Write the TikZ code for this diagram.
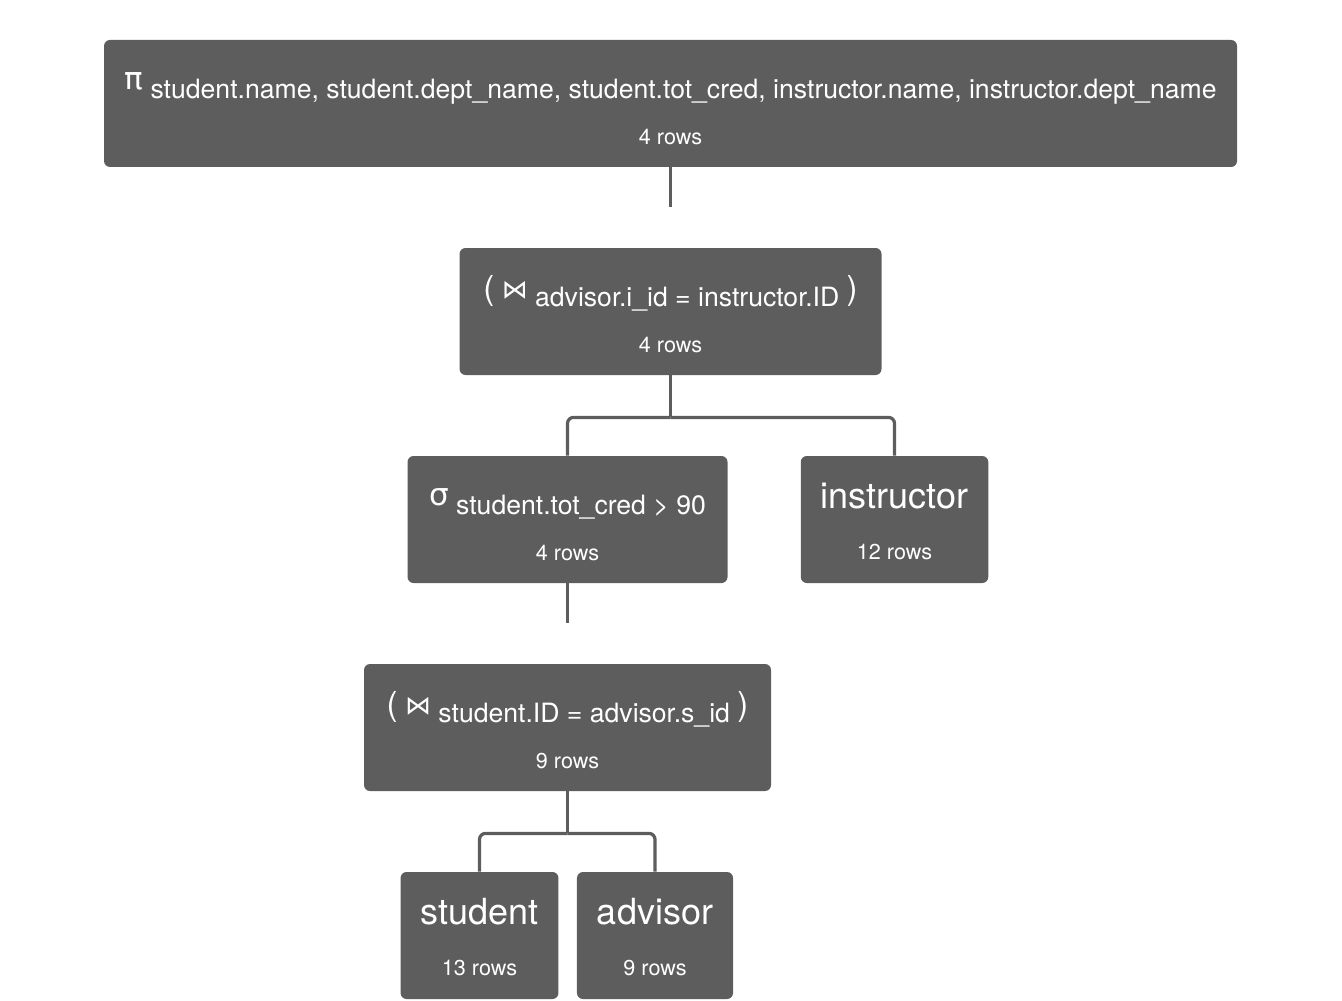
\documentclass[tikz,border=0pt]{standalone}
\usepackage{fontspec}
\setmainfont{TeX Gyre Heros}
\newfontfamily\symfont{DejaVu Sans}
\usetikzlibrary{positioning}
\definecolor{opgray}{HTML}{5D5D5D}
\newcommand{\rowcount}[1]{{\fontsize{10.8}{14}\selectfont #1}}
\newcommand{\opsign}[1]{\rule{0pt}{18.5pt}\raisebox{4.5pt}{\symfont\fontsize{15.5}{15.5}\selectfont #1}}
\newcommand{\joinsign}{\raisebox{3.5pt}{\fontsize{16.5}{16.5}\selectfont(}\ \raisebox{4pt}{\symfont\fontsize{13}{13}\selectfont ⋈}}
\newcommand{\joinend}{\raisebox{3.5pt}{\fontsize{16.5}{16.5}\selectfont)}}
\newcommand{\relname}[1]{\rule{0pt}{15pt}{\fontsize{18}{22}\selectfont #1}}

\begin{document}
\begin{tikzpicture}[x=0.5pt,y=-0.5pt,node distance=104pt,on grid]
\tikzstyle{opbox} = [rectangle,rounded corners=3pt,fill=opgray,text=white,inner xsep=10pt,inner ysep=0pt,minimum height=63.5pt,align=center,font=\fontsize{13.3}{23}\selectfont]
\tikzstyle{relbox} = [opbox,font=\fontsize{13.3}{25.5}\selectfont]
    \useasboundingbox (0,0) rectangle (1342,1000);
    \node[opbox,minimum width=566.5pt] (proj) at (670.5,103.5) {\opsign{π} student.name, student.dept\_name, student.tot\_cred, instructor.name, instructor.dept\_name\\ \rowcount{4 rows}};
    \node[opbox,minimum width=211pt] (ijoin) [below =of proj] {\opsign{}\joinsign{} advisor.i\_id = instructor.ID \joinend\\ \rowcount{4 rows}};
    \node[opbox,minimum width=160pt] (sel) [below left =104pt and 51.5pt of ijoin] {\opsign{σ} student.tot\_cred > 90\\ \rowcount{4 rows}};
    \node[relbox,minimum width=93pt] (inst) [below right =104pt and 112pt of ijoin] {\relname{instructor}\\ \rowcount{12 rows}};
    \node[opbox,minimum width=203.5pt] (sjoin) [below =of sel] {\opsign{}\joinsign{} student.ID = advisor.s\_id \joinend\\ \rowcount{9 rows}};
    \node[relbox,minimum width=77.5pt] (stud) [below left =104pt and 44pt of sjoin] {\relname{student}\\ \rowcount{13 rows}};
    \node[relbox,minimum width=77pt] (adv) [below right =104pt and 43.75pt of sjoin] {\relname{advisor}\\ \rowcount{9 rows}};

    \coordinate[below =20pt of proj.south] (projstub);
    \coordinate[below =20pt of sel.south] (selstub);
    \coordinate[below =21pt of ijoin.south] (ibus);
    \coordinate[below =21pt of sjoin.south] (sbus);

    \tikzset{link/.style={draw=opgray,line width=1.6pt}}
    \draw (proj.south) edge [link] (projstub);
    \draw (sel.south) edge [link] (selstub);
    \draw (ijoin.south) edge [link] (ibus);
    \draw (sjoin.south) edge [link] (sbus);
    \draw [link,rounded corners=3pt] (ibus) -| (sel.north);
    \draw [link,rounded corners=3pt] (ibus) -| (inst.north);
    \draw [link,rounded corners=3pt] (sbus) -| (stud.north);
    \draw [link,rounded corners=3pt] (sbus) -| (adv.north);
\end{tikzpicture}
\end{document}
